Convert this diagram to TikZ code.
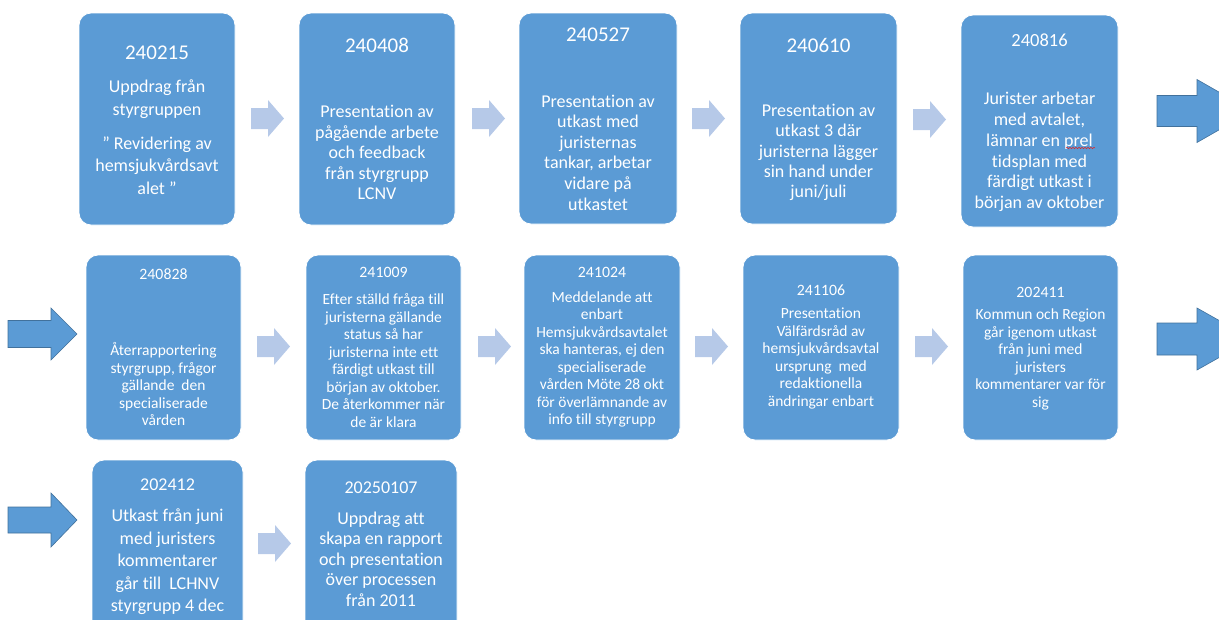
\documentclass[tikz,border=0pt]{standalone}
\usepackage{fontspec}
\setmainfont{Carlito}[Ligatures={NoCommon}]
\usetikzlibrary{decorations.pathmorphing}
\definecolor{boxblue}{RGB}{91,155,213}
\definecolor{lightarrow}{RGB}{182,201,232}
\definecolor{arrowedge}{RGB}{65,113,156}
\definecolor{squiggle}{RGB}{220,40,40}
\tikzset{
  box/.style={draw=white, line width=0.8pt, fill=boxblue, rounded corners=12pt, inner sep=0pt},
  datetxt/.style={text=white, inner sep=0pt, align=center},
  bodytxt/.style={text=white, inner sep=0pt, align=center},
  lightarr/.style={fill=lightarrow, draw=none},
  bigarr/.style={fill=boxblue, draw=arrowedge, line width=0.6pt},
}
% light arrow: #1 left x, #2 center y
\newcommand{\lightarrowat}[2]{%
  \fill[lightarr] (#1,#2-10.5) -- (#1+17,#2-10.5) -- (#1+17,#2-18.5) -- (#1+33,#2) -- (#1+17,#2+18.5) -- (#1+17,#2+10.5) -- (#1,#2+10.5) -- cycle;}
% big arrow: #1 left x, #2 head start x, #3 tip x, #4 center y, #5 shaft half, #6 head half
\newcommand{\bigarrowat}[6]{%
  \filldraw[bigarr] (#1,#4-#5) -- (#2,#4-#5) -- (#2,#4-#6) -- (#3,#4) -- (#2,#4+#6) -- (#2,#4+#5) -- (#1,#4+#5) -- cycle;}
\begin{document}
\begin{tikzpicture}[x=1pt,y=-1pt]
\useasboundingbox (0,0) rectangle (1219,619);
\clip (0,0) rectangle (1219,619);

% ---------- row 1 ----------
\node[box, minimum width=156pt, minimum height=212pt] (b1) at (157,119) {};
\node[box, minimum width=156pt, minimum height=212pt] (b2) at (377,119) {};
\node[box, minimum width=158pt, minimum height=211pt] (b3) at (598,118.5) {};
\node[box, minimum width=157pt, minimum height=211pt] (b4) at (818.5,118.5) {};
\node[box, minimum width=157pt, minimum height=212pt] (b5) at (1039.5,121) {};

\node[datetxt, font=\fontsize{21}{24}\selectfont] (d1) at (157,53) {240215};
\node[bodytxt, font=\fontsize{18}{23}\selectfont] (t1a) at (157,99.5) {Uppdrag från\\styrgruppen};
\node[bodytxt, font=\fontsize{18}{22.5}\selectfont] (t1b) at (157,165.5) {” Revidering av\\hemsjukvårdsavt\\alet ”};

\node[datetxt, font=\fontsize{21}{24}\selectfont] (d2) at (377,45) {240408};
\node[bodytxt, font=\fontsize{18}{20.5}\selectfont] (t2) at (377,152.5) {Presentation av\\pågående arbete\\och feedback\\från styrgrupp\\LCNV};

\node[datetxt, font=\fontsize{21}{24}\selectfont] (d3) at (598,35) {240527};
\node[bodytxt, font=\fontsize{18}{20.6}\selectfont] (t3) at (598,152.5) {Presentation av\\utkast med\\juristernas\\tankar, arbetar\\vidare på\\utkastet};

\node[datetxt, font=\fontsize{21}{24}\selectfont] (d4) at (818.5,45) {240610};
\node[bodytxt, font=\fontsize{18}{20.3}\selectfont] (t4) at (818.5,152.5) {Presentation av\\utkast 3 där\\juristerna lägger\\sin hand under\\juni/juli};

\node[datetxt, font=\fontsize{18.5}{22}\selectfont] (d5) at (1039.5,40) {240816};
\node[bodytxt, font=\fontsize{18}{20.8}\selectfont] (t5) at (1039.5,152) {Jurister arbetar\\med avtalet,\\lämnar en prel\\tidsplan med\\färdigt utkast i\\början av oktober};
\draw[squiggle, line width=0.5pt, decorate, decoration={snake, amplitude=0.8pt, segment length=3pt}] (1066,148) -- (1095,148);

\lightarrowat{251}{118.5}
\lightarrowat{472}{118.5}
\lightarrowat{692}{118.5}
\lightarrowat{913}{119.5}
\bigarrowat{1157}{1197}{1252}{111}{15.5}{31.5}

% ---------- row 2 ----------
\node[box, minimum width=155pt, minimum height=185pt] (b6) at (163.5,347.5) {};
\node[box, minimum width=155pt, minimum height=185pt] (b7) at (383.5,347.5) {};
\node[box, minimum width=156pt, minimum height=185pt] (b8) at (602,347.5) {};
\node[box, minimum width=156pt, minimum height=185pt] (b9) at (821,347.5) {};
\node[box, minimum width=155pt, minimum height=185pt] (b10) at (1040.5,347.5) {};

\node[datetxt, font=\fontsize{15.8}{18}\selectfont] (d6) at (163.5,274) {240828};
\node[bodytxt, font=\fontsize{15.5}{17.5}\selectfont] (t6) at (163.5,384) {Återrapportering\\styrgrupp, frågor\\gällande\ \ den\\specialiserade\\vården};

\node[datetxt, font=\fontsize{15.8}{18}\selectfont] (d7) at (383.5,272) {241009};
\node[bodytxt, font=\fontsize{15.5}{17.5}\selectfont] (t7) at (383.5,360.5) {Efter ställd fråga till\\juristerna gällande\\status så har\\juristerna inte ett\\färdigt utkast till\\början av oktober.\\De återkommer när\\de är klara};

\node[datetxt, font=\fontsize{15.8}{18}\selectfont] (d8) at (602,272) {241024};
\node[bodytxt, font=\fontsize{15.5}{17.5}\selectfont] (t8) at (602,359.5) {Meddelande att\\enbart\\Hemsjukvårdsavtalet\\ska hanteras, ej den\\specialiserade\\vården Möte 28 okt\\för överlämnande av\\info till styrgrupp};

\node[datetxt, font=\fontsize{15.8}{18}\selectfont] (d9) at (821,290) {241106};
\node[bodytxt, font=\fontsize{15.5}{17.5}\selectfont] (t9) at (821,358.5) {Presentation\\Välfärdsråd av\\hemsjukvårdsavtal\\ursprung\ \ med\\redaktionella\\ändringar enbart};

\node[datetxt, font=\fontsize{15.8}{18}\selectfont] (d10) at (1040.5,292) {202411};
\node[bodytxt, font=\fontsize{15.5}{17.5}\selectfont] (t10) at (1040.5,359.5) {Kommun och Region\\går igenom utkast\\från juni med\\juristers\\kommentarer var för\\sig};

\bigarrowat{8}{51}{77}{334}{13.5}{26}
\lightarrowat{257}{346.5}
\lightarrowat{478}{346.5}
\lightarrowat{695}{346.5}
\lightarrowat{915}{346.5}
\bigarrowat{1157}{1197}{1252}{339}{16}{31}

% ---------- row 3 ----------
\node[box, minimum width=151pt, minimum height=180pt] (b11) at (167.5,550) {};
\node[box, minimum width=152pt, minimum height=180pt] (b12) at (381,550) {};

\node[datetxt, font=\fontsize{18}{21}\selectfont] (d11) at (167.5,485) {202412};
\node[bodytxt, font=\fontsize{18}{22.5}\selectfont] (t11) at (167.5,562) {Utkast från juni\\med juristers\\kommentarer\\går till\ \ LCHNV\\styrgrupp 4 dec};

\node[datetxt, font=\fontsize{18}{21}\selectfont] (d12) at (381,488) {20250107};
\node[bodytxt, font=\fontsize{18}{20.5}\selectfont] (t12) at (381,559) {Uppdrag att\\skapa en rapport\\och presentation\\över processen\\från 2011};

\bigarrowat{8}{51}{77}{520}{13}{27}
\lightarrowat{258}{543.5}
\end{tikzpicture}
\end{document}
